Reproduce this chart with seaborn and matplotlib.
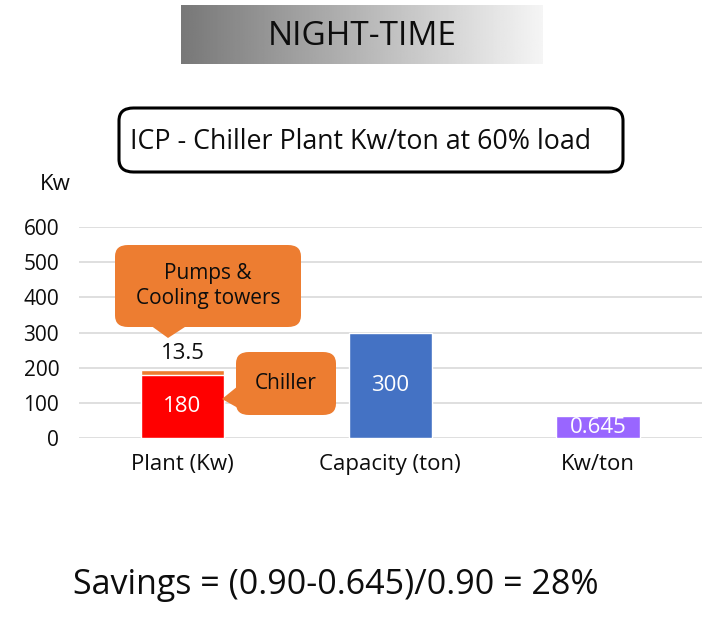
import matplotlib
matplotlib.use("Agg")
import matplotlib.pyplot as plt
import numpy as np
import seaborn as sns
from matplotlib.patches import FancyBboxPatch, Polygon

# ─── Data ─────────────────────────────────────────────────────────────────────
categories = ["Plant (Kw)", "Capacity (ton)", "Kw/ton"]
chiller_kw = 180
pumps_kw = 13.5
capacity_ton = 300
kw_per_ton = 0.645
kw_per_ton_scale = 100  # drawn as kw/ton x 100 on the Kw axis
y_ticks = [0, 100, 200, 300, 400, 500, 600]

bar_colors = ["#ED7D31", "#4472C4", "#9966FF"]
chiller_color = "#FF0000"
callout_color = "#ED7D31"
ink = "#0d0d0d"

W, H = 724, 633

sns.set_theme(style="white")
plt.rcParams["font.family"] = ["Open Sans", "DejaVu Sans"]

fig = plt.figure(figsize=(W / 100, H / 100), dpi=100)


def fx(x):
    return x / W


def fy(y):
    return 1 - y / H


# ─── Bars ─────────────────────────────────────────────────────────────────────
ax = fig.add_axes([fx(78.6), fy(438.3), 623.3 / W, 211.3 / H])
totals = [chiller_kw + pumps_kw, capacity_ton, kw_per_ton * kw_per_ton_scale]
sns.barplot(x=categories, y=totals, hue=categories, palette=bar_colors,
            width=0.4, saturation=1, legend=False, ax=ax, zorder=2)
sns.barplot(x=[categories[0]], y=[chiller_kw], order=categories, color=chiller_color,
            width=0.4, saturation=1, ax=ax, zorder=3)

ax.set_xlim(-0.5, 2.5)
ax.set_ylim(0, y_ticks[-1])
ax.set_yticks(y_ticks)
ax.yaxis.grid(True, color="#d9d9d9", linewidth=1.2)
ax.set_axisbelow(True)
for s in ax.spines.values():
    s.set_visible(False)
ax.tick_params(axis="y", length=0, labelsize=15, pad=14, labelcolor=ink)
ax.tick_params(axis="x", length=0, labelsize=16, pad=11, labelcolor=ink)
ax.set_xlabel("")
ax.set_ylabel("")

# bar value labels
ax.text(0, chiller_kw / 2, f"{chiller_kw}", ha="center", va="center",
        color="white", fontsize=16, zorder=5)
ax.text(0, chiller_kw + pumps_kw + 47, f"{pumps_kw}", ha="center", va="center",
        color=ink, fontsize=16, zorder=5)
ax.text(1, capacity_ton / 2, f"{capacity_ton}", ha="center", va="center",
        color="white", fontsize=16, zorder=5)
ax.text(2, kw_per_ton * kw_per_ton_scale / 2 - 3, f"{kw_per_ton}", ha="center",
        va="center", color="white", fontsize=16, zorder=5)

fig.text(fx(55), fy(185), "Kw", ha="center", va="center", fontsize=16, color=ink)

# ─── Callouts ─────────────────────────────────────────────────────────────────
def callout(x0, y0, x1, y1, pointer, text):
    box = FancyBboxPatch((fx(x0), fy(y1)), fx(x1 - x0), (y1 - y0) / H,
                         boxstyle="round,pad=0,rounding_size=0.018",
                         transform=fig.transFigure, facecolor=callout_color,
                         edgecolor="none", zorder=10)
    fig.add_artist(box)
    tri = Polygon([(fx(px), fy(py)) for px, py in pointer], closed=True,
                  transform=fig.transFigure, facecolor=callout_color,
                  edgecolor="none", zorder=10)
    fig.add_artist(tri)
    fig.text(fx((x0 + x1) / 2), fy((y0 + y1) / 2), text, ha="center", va="center",
             fontsize=15, color=ink, zorder=11, linespacing=1.3)


callout(115, 245, 301, 327, [(150, 325), (168, 338), (188, 325)], "Pumps &\nCooling towers")
callout(236, 352, 336, 415, [(238, 386), (222, 399), (238, 408)], "Chiller")

# ─── Banner & title box ───────────────────────────────────────────────────────
bax = fig.add_axes([fx(181), fy(64), 362 / W, 59 / H])
grad = np.linspace(0.47, 0.96, 256)[None, :]
bax.imshow(grad, cmap="gray", vmin=0, vmax=1, aspect="auto", extent=(0, 1, 0, 1))
bax.set_axis_off()
bax.text(0.5, 0.47, "NIGHT-TIME", ha="center", va="center", fontsize=24,
         color=ink, transform=bax.transAxes)

tbox = FancyBboxPatch((fx(119), fy(172)), fx(623 - 119), 64 / H,
                      boxstyle="round,pad=0,rounding_size=0.02",
                      transform=fig.transFigure, facecolor="white",
                      edgecolor="black", linewidth=2.2)
fig.add_artist(tbox)
fig.text(fx(361), fy(142), "ICP - Chiller Plant Kw/ton at 60% load", ha="center",
         va="center", fontsize=19.3, color=ink)

fig.text(fx(336), fy(585), "Savings = (0.90-0.645)/0.90 = 28%", ha="center",
         va="center", fontsize=24.5, color=ink)

fig.savefig("out.png", dpi=100)
